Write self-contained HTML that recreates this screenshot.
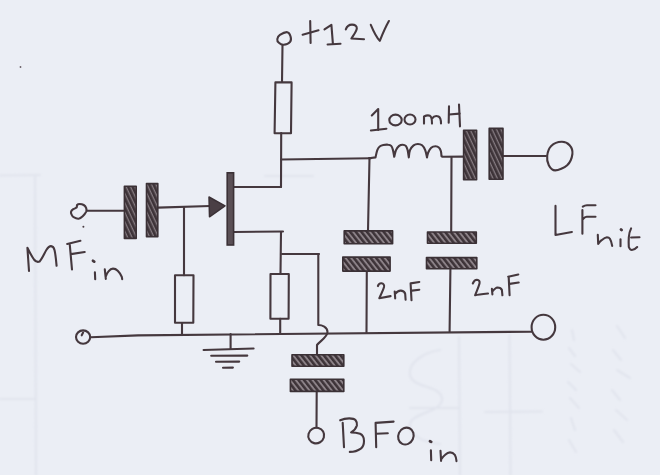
<!DOCTYPE html>
<html>
<head>
<meta charset="utf-8">
<style>
html,body{margin:0;padding:0;background:#ebeef5;}
body{width:660px;height:475px;overflow:hidden;font-family:"Liberation Sans",sans-serif;}
svg{display:block;}
</style>
</head>
<body>
<svg width="660" height="475" viewBox="0 0 660 475">
<defs>
<pattern id="h" patternUnits="userSpaceOnUse" width="4.4" height="4" patternTransform="rotate(-38)">
<rect width="4.4" height="4" fill="#3d3338"/>
<rect x="2.5" width="1.9" height="4" fill="#8c8288"/>
</pattern>
<pattern id="hv" patternUnits="userSpaceOnUse" width="4" height="4" patternTransform="rotate(-25)">
<rect width="4" height="4" fill="#3d3338"/>
<rect x="2.7" width="1.3" height="4" fill="#857b81"/>
</pattern>
</defs>
<rect width="660" height="475" fill="#ebeef5"/>

<!-- faint bleed-through -->
<filter id="bl" x="-10%" y="-10%" width="120%" height="120%"><feGaussianBlur stdDeviation="0.8"/></filter>
<g stroke="#e1e4ed" stroke-width="2.2" fill="none" filter="url(#bl)" stroke-linecap="round">
<path d="M0 175.5 L40 175"/>
<path d="M35 176 L36 475"/>
<path d="M0 399 L35 399"/>
<path d="M459 337 L460 475"/>
<path d="M509.5 335 L510.5 475"/>
<path d="M485 412 L542 411.5"/>
<path d="M440 350 C425 352 408 362 410 375 C412 388 440 385 442 398 C444 410 420 412 412 420 C404 430 418 442 440 444"/>
<path d="M410 408 L459 408"/>
<path d="M572 330 L574 340 M569 348 L575 356 M571 364 L580 372 M568 382 L576 390 M570 398 L579 408 M571 418 L575 430 M569 440 L576 452"/>
<path d="M617 326 L625 338 M613 350 L621 360 M617 370 L630 378 M612 390 L620 400 M616 410 L627 420 M614 430 L623 442"/>
<path d="M265 176 L313 176"/>
</g>

<g fill="none" stroke="#45383e" stroke-width="2.1" stroke-linecap="round" stroke-linejoin="round">
<!-- +12V terminal -->
<path d="M277.3 39.1 C277.5 37.8 278.2 36.0 279.9 34.9 C281.6 33.8 285.5 32.0 287.3 32.2 C289.1 32.4 290.0 34.7 290.5 36.3 C291.0 37.9 291.2 40.5 290.1 41.9 C289.0 43.3 285.5 44.6 283.6 44.7 C281.7 44.9 279.9 43.7 278.9 42.8 C277.8 41.9 277.1 40.4 277.3 39.1 Z"/>
<path d="M282.5 45 L282 82"/>
<!-- R1 -->
<path d="M275.4 82.4 L291.6 82.4 L291 133.2 L274.6 133.2 Z"/>
<path d="M281.2 133 L281 187"/>
<!-- top wire -->
<path d="M281 159.5 L371 158.2"/>
<!-- inductor -->
<path d="M369 158.2 L375.5 157.4 C375.8 156.2 376.6 151.9 377.3 150.1 C378.0 148.3 378.7 147.3 379.7 146.5 C380.7 145.7 381.9 145.3 383.3 145.0 C384.7 144.7 386.9 144.5 388.2 144.7 C389.5 144.8 390.4 145.0 391.2 145.9 C392.0 146.8 392.5 148.3 393.0 150.1 C393.5 151.9 394.0 155.7 394.2 156.8 C394.5 155.7 395.2 151.9 396.0 150.1 C396.8 148.3 398.0 146.8 399.1 145.9 C400.2 145.0 401.6 144.7 402.7 144.7 C403.8 144.7 405.0 145.0 405.8 145.9 C406.6 146.8 407.1 148.2 407.6 150.1 C408.1 152.0 408.6 156.2 408.8 157.4 C409.0 156.2 409.2 152.1 410.0 150.1 C410.8 148.1 412.3 146.3 413.6 145.3 C414.9 144.3 416.5 144.0 417.9 144.0 C419.3 144.0 420.9 144.3 422.1 145.3 C423.3 146.3 424.4 148.1 425.2 150.1 C426.0 152.1 426.7 156.2 427.0 157.4 C427.2 156.6 427.5 154.1 428.2 152.5 C428.9 150.9 430.0 148.8 431.2 147.7 C432.4 146.6 434.2 146.2 435.5 146.2 C436.8 146.2 438.2 146.8 439.1 147.7 C440.0 148.5 440.5 149.9 440.9 151.3 C441.3 152.7 441.4 155.4 441.5 156.2 L442.7 156.8 L464 156.6"/>
<!-- shunt cap wires -->
<path d="M369.5 158 L368 230.6"/>
<path d="M451.5 157 L451.2 231.3"/>
<path d="M366.8 271 L366.5 332.5"/>
<path d="M450.4 269.4 L449.6 331.5"/>
<!-- output wire -->
<path d="M503 156 L546 156"/>
<path d="M547.2 155.6 C547.6 152.4 548.8 148.3 551.2 146.0 C553.6 143.7 558.5 141.9 561.6 141.8 C564.7 141.7 567.8 143.2 569.6 145.2 C571.4 147.2 572.8 150.7 572.4 154.0 C572.0 157.3 570.1 162.5 567.2 165.2 C564.3 167.9 558.3 170.4 555.2 170.4 C552.1 170.4 550.1 167.7 548.8 165.2 C547.5 162.7 546.8 158.8 547.2 155.6 Z"/>
<!-- transistor -->
<path d="M234 187 L281 187"/>
<path d="M234 232 L283 231.5"/>
<path d="M281 232 L280.5 274"/>
<!-- gate wire -->
<path d="M157.8 207.6 L210 206"/>
<path d="M87 210.7 L123.6 210.7"/>
<path d="M71.0 212.1 C71.2 211.3 71.7 210.3 72.6 209.6 C73.5 208.8 75.8 208.4 76.6 207.6 C77.3 206.8 76.6 205.6 77.1 205.0 C77.6 204.4 78.5 204.0 79.6 204.0 C80.7 204.0 82.6 204.3 83.7 205.0 C84.8 205.7 85.8 207.0 86.2 208.1 C86.6 209.2 86.8 210.2 86.2 211.6 C85.6 212.9 84.0 215.0 82.7 216.2 C81.4 217.4 80.1 218.5 78.6 218.7 C77.1 218.9 74.8 217.9 73.6 217.2 C72.4 216.5 72.0 215.4 71.6 214.6 C71.2 213.8 70.8 212.9 71.0 212.1 Z"/>
<!-- gate resistor -->
<path d="M184 207.8 L184 275.2"/>
<path d="M175 275.2 L193.5 275.2 L193.3 322.8 L175 322.8 Z"/>
<path d="M182 323.2 L182 334.5"/>
<!-- source resistor -->
<path d="M270.5 274 L288.8 274 L288.6 318.8 L270.4 318.8 Z"/>
<path d="M280.2 318.8 L280.2 334"/>
<!-- BFO wire with hop -->
<path d="M282 254 L319 254"/>
<path d="M318.3 254 L318.3 325 C322 325 327.5 327 327.5 332 C327.5 337 320 341 317 345 L317 354.5"/>
<path d="M316.7 391.5 L316.5 427.5"/>
<ellipse cx="316.2" cy="435.6" rx="8" ry="7.7" transform="rotate(-30 316.2 435.6)"/>
<!-- ground bus -->
<ellipse cx="83.1" cy="337.1" rx="7.1" ry="6.7"/><path d="M81.7 335.3 L83.1 332.5"/>
<path d="M90.8 337.2 L138 335.4 L531.6 331.7"/>
<ellipse cx="543.4" cy="327.2" rx="11.8" ry="12.5"/>
<!-- ground symbol -->
<path d="M230.6 334 L230.6 349"/>
<path d="M203.6 350 L253.6 348.5"/>
<path d="M211.2 355.8 L247.3 355.6"/>
<path d="M216 361.8 L239.2 361.6"/>
<path d="M223 367.7 L232.9 367.6"/>
</g>

<!-- plates -->
<g fill="url(#h)" stroke="#3b3136" stroke-width="1.6" stroke-linejoin="round">
<rect fill="url(#hv)" x="124.4" y="186.2" width="11.8" height="52.2"/>
<rect fill="url(#hv)" x="146.5" y="183.6" width="11.3" height="53.2"/>
<rect fill="url(#hv)" x="463.6" y="130.2" width="13" height="49.6"/>
<rect fill="url(#hv)" x="489.2" y="128.4" width="13.8" height="50.8"/>
<rect x="344.2" y="230.9" width="48.4" height="12.9"/>
<rect x="342.8" y="257.1" width="47.3" height="14"/>
<rect x="427.5" y="232" width="48.8" height="11.3"/>
<rect x="426.5" y="257.6" width="50.3" height="11.2"/>
<rect x="292" y="354.7" width="51.8" height="11.5"/>
<rect x="290.4" y="379.2" width="53.4" height="12.2"/>
</g>
<!-- transistor bar -->
<rect x="227.2" y="172.8" width="6.4" height="72.2" fill="#5a4f55" stroke="#3b3136" stroke-width="1.6"/>
<path d="M225 205.8 L209 197 L209.5 216.8 Z" fill="#4a3f45" stroke="#3b3136" stroke-width="1.5" stroke-linejoin="round"/>

<circle cx="20.5" cy="67" r="0.9" fill="#6a6066"/>
<circle cx="83.4" cy="226.8" r="1" fill="#4a3e44"/>
<!-- handwriting -->
<g fill="none" stroke="#45383e" stroke-width="2.1" stroke-linecap="round" stroke-linejoin="round">
<!-- +12V -->
<path d="M302.6 34.7 L318.5 30.2"/>
<path d="M310.2 21 L310.6 43"/>
<path d="M324.5 29.4 L331.4 24.8 L332.9 43.8"/>
<path d="M327.6 44.5 L340.5 43.8"/>
<path d="M345.8 29.4 C347 26 349.5 24.6 352 24.6 C355 24.6 357 26 356.8 28.5 C356.5 31.5 353.5 35 351.4 38.5 L364 39.2"/>
<path d="M370.8 24.8 C373 30 376 37 379.8 40.8 C382.5 34 385.5 27 388.9 21"/>
<!-- 100mH -->
<path d="M371.8 115.5 L378.2 109.1 L378.2 130"/>
<path d="M370.9 130.5 L386.4 128.7"/>
<ellipse cx="395.5" cy="120" rx="6.2" ry="5.4"/>
<ellipse cx="410" cy="119.5" rx="5.5" ry="5"/>
<path d="M424 123.6 L424 116.5 C426 115.5 428 115 430 115.8 C431.8 116.8 432 120 432 123.6 M432 118.5 C433.5 116.5 436 115.5 438.5 116.5 C440.5 117.5 441 120 441 123.5"/>
<path d="M449 106.4 L448.7 122.7"/>
<path d="M459 104.5 L460 126.4"/>
<path d="M449 114.5 L459.6 113.6"/>
<!-- 2nF #1 -->
<path d="M377.9 286.1 C378.5 284 380 283.2 381.5 283.3 C383.5 283.5 384.5 285 384 287 C383 290.5 381 294.5 379.3 298.2 L390.6 296.1"/>
<path d="M394.7 291.5 L395.2 298.4 M395.2 293.8 C397 291.5 399 290.4 401 290.6 C403.5 291 405 292.5 405.2 294 L405.6 299.7"/>
<path d="M410.6 283.4 L411.5 300.2 M410.6 283.4 L419.3 282 M412 290.6 L419.3 289.7"/>
<!-- 2nF #2 -->
<path d="M472.8 283.5 C473.8 281 475.3 279.8 477 279.8 C479 279.9 480 281.5 479.5 283.5 C478.5 287.5 476.5 291.5 475.1 295.3 C478 294.5 483 294 488 293.5"/>
<path d="M491.9 288.9 L492.4 294.4 M492.4 291.5 C494 289.5 495.5 287.6 497.4 287.5 C500 287.6 501.5 289 501.9 290 L502.4 295.3"/>
<path d="M508.7 277.1 L509.6 295.3 M508.2 276.8 L518.3 274.5 M509.6 283.9 L518.7 282.5"/>
<!-- MF in -->
<path d="M29 271 L27.4 247.7 C29 251 31.5 256 34 259.5 C35.5 261.5 37.5 262.3 39.6 261.5 C42 259 44.5 253 46.5 249.8 C48 247.5 49.5 246 51 246.1 C53 246.3 54 248 54.5 250 C55.5 254 56 259 56.6 265.8"/>
<path d="M69.8 245 L72 269.5 M67.2 244 L80.4 240.8 M70.9 254.1 L84.7 252"/>
<path d="M93 260.8 L94.2 261.6" stroke-width="2.8"/>
<path d="M94.9 272.4 L95.2 279.2"/>
<path d="M104.8 269.3 L105.8 278.9 M105.6 277 C106.5 274.5 107.5 272.5 108.5 271.4 C110 269.5 111.5 268.6 113 268.6 C115 268.6 116.5 269.5 117.7 270.7 C119.5 272.5 121 274.5 121.8 276.8 L122.2 279.2"/>
<!-- LF uit -->
<path d="M555.5 205.9 L555.5 235 L571.9 232"/>
<path d="M582.4 210.1 L582.4 233.7 M582.8 206.7 C584 205.8 585.5 205.2 587 205.2 L595.5 205.2 M583.2 218.9 C584.2 217.5 585.5 216.8 586.6 216.8 L595.5 216.8"/>
<path d="M597.8 234.9 L598.2 244 C599.2 242.5 600.3 241.2 601.6 240.2 C603.5 238.5 605 237.3 606.9 237.2 C608.3 237.2 609.4 237.9 609.9 238.7 C611 240.5 611.8 243.5 612.2 245.9"/>
<path d="M621 229.4 L621.6 230" stroke-width="2.8"/>
<path d="M620.5 239.4 L620.5 246.2"/>
<path d="M631.1 228.4 C629.8 231 629 234 628.8 237.2 C628.6 240.5 628.6 244 628.8 247 C629.5 249 630.5 250 631.9 250 C633.8 250 635.8 248.5 637.2 247"/>
<path d="M631.1 237.5 L639.5 237.2"/>
<!-- BFO in -->
<path d="M342.7 422.9 L344 447.3"/>
<path d="M340.2 420.3 C343 419 346 418.4 349.2 418.4 C352 418.4 354.5 419 355.6 420.3 C357 422 357.2 424 356.9 425.5 C356 428.5 353.5 431 351.1 432.5 C354.5 432.5 357.5 433 360.1 433.8 C362.5 435 364 437.5 364 440.9 C364 444.5 362.8 447 360.8 448.6 C357.5 451 353.5 451.9 349.8 451.9"/>
<path d="M375.6 422.9 L376.2 447.3 M375.6 422.9 L393.6 421.6 M376.2 433.8 L387.8 433.2"/>
<ellipse cx="405.9" cy="436.1" rx="7.6" ry="8.6" transform="rotate(25 405.9 436.1)"/>
<path d="M430 441.2 L431.2 441.9" stroke-width="2.8"/>
<path d="M430.9 450.3 L431.2 460.2"/>
<path d="M440.5 450.7 L441.1 460.9 M441.5 458.9 C442.5 457.5 443.8 456 445.2 454.8 C446.8 453.3 448.3 452.4 450 452.4 C452 452.4 453.8 453.5 454.8 454.8 C455.8 456.5 456.3 459 456.5 461.2"/>
</g>
</svg>
</body>
</html>
